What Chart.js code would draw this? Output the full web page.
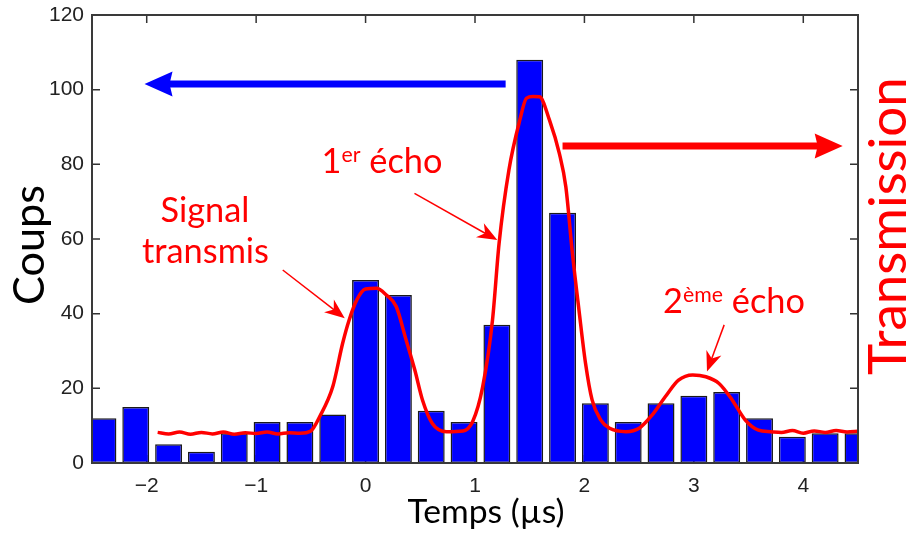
<!DOCTYPE html>
<html>
<head>
<meta charset="utf-8">
<script src="https://cdn.jsdelivr.net/npm/chart.js@4/dist/chart.umd.min.js"></script>
<style>
  html, body { margin: 0; padding: 0; background: #fff; }
  #wrap { width: 909px; height: 538px; position: relative; }
</style>
</head>
<body>
<div id="wrap"><canvas id="chart"></canvas></div>
<script>
// Histogramme (coups) par intervalle de 0.3 µs
const timeBins = [-2.4, -2.1, -1.8, -1.5, -1.2, -0.9, -0.6, -0.3, 0, 0.3, 0.6, 0.9,
                  1.2, 1.5, 1.8, 2.1, 2.4, 2.7, 3.0, 3.3, 3.6, 3.9, 4.2, 4.5];
const counts = [12, 15, 5, 3, 8, 11, 11, 13, 49, 45, 14, 11,
                37, 108, 67, 16, 11, 16, 18, 19, 12, 7, 8, 8];

// Courbe de transmission (en unités de l'axe gauche)
const curveTime = [-1.9, -1.8, -1.7, -1.6, -1.5, -1.4, -1.3, -1.2, -1.1, -1.0, -0.9, -0.8, -0.7, -0.6, -0.5,
                   -0.42, -0.3, -0.21, -0.15, -0.08, 0.0, 0.1, 0.19, 0.28, 0.37, 0.45, 0.52, 0.61, 0.74, 0.89,
                   0.98, 1.07, 1.16, 1.22, 1.31, 1.41, 1.47, 1.53, 1.59, 1.68, 1.77, 1.83, 1.89, 1.95, 2.01,
                   2.07, 2.15, 2.23, 2.38, 2.5, 2.62, 2.74, 2.86, 2.99, 3.11, 3.23, 3.35, 3.47, 3.59, 3.7,
                   3.8, 3.9, 4.0, 4.1, 4.2, 4.3, 4.4, 4.5];
const curveTransmission = [8.2, 7.8, 8.3, 7.7, 8.2, 7.8, 8.3, 7.7, 8.1, 7.9, 8.3, 7.8, 8.1, 8.0, 8.6,
                   12.4, 20.4, 32, 38.3, 43.7, 46.6, 46.8, 45, 41.9, 33, 24.9, 16.9, 10.6, 8.4, 8.6,
                   11.2, 20.4, 38.3, 58.8, 78.5, 91.9, 97.7, 98.2, 98.1, 91.9, 83, 74, 56.2, 41, 26.7,
                   16.9, 11.5, 9.3, 8.4, 9.3, 12.9, 17.8, 22.2, 23.6, 23.1, 21.3, 16.9, 11.5, 8.8, 8.4,
                   8.2, 8.7, 8.0, 8.6, 8.2, 8.7, 8.3, 8.5];

const xTicks = [-2, -1, 0, 1, 2, 3, 4];
const yTicks = [0, 20, 40, 60, 80, 100, 120];

const TEXT_FONT = 'Lato, "Open Sans", sans-serif';
const TICK_FONT = '"Liberation Sans", Arial, sans-serif';

// flèches et textes (en unités des axes)
const bigArrows = [
  { from: [1.28, 101.5], to: [-2.02, 101.5], color: '#0000ff' },
  { from: [1.80, 84.9], to: [4.36, 84.9], color: '#ff0000' }
];
const thinArrows = [
  { from: [-0.757, 51.7], to: [-0.19, 38.8] },
  { from: [0.447, 72.2], to: [1.204, 59.7] },
  { from: [3.277, 37], to: [3.12, 24.5] }
];

function fitFont(ctx, text, width, weight) {
  ctx.font = (weight || '') + ' 100px ' + TEXT_FONT;
  return 100 * width / ctx.measureText(text).width;
}

function drawArrow(ctx, x1, y1, x2, y2, lw, headLen, headHalf, notch, color) {
  const a = Math.atan2(y2 - y1, x2 - x1);
  const c = Math.cos(a), s = Math.sin(a);
  ctx.save();
  ctx.strokeStyle = color;
  ctx.fillStyle = color;
  ctx.lineWidth = lw;
  ctx.lineCap = 'butt';
  ctx.beginPath();
  ctx.moveTo(x1, y1);
  ctx.lineTo(x2 - c * (headLen - notch - 1), y2 - s * (headLen - notch - 1));
  ctx.stroke();
  const bx = x2 - c * headLen, by = y2 - s * headLen;
  ctx.beginPath();
  ctx.moveTo(x2, y2);
  ctx.lineTo(bx - s * headHalf, by + c * headHalf);
  ctx.lineTo(x2 - c * (headLen - notch), y2 - s * (headLen - notch));
  ctx.lineTo(bx + s * headHalf, by - c * headHalf);
  ctx.closePath();
  ctx.fill();
  ctx.restore();
}

function drawRich(ctx, parts, cx, baseline, size, color) {
  const sup = size * 0.62;
  let total = 0;
  parts.forEach(p => {
    ctx.font = (p[1] ? sup : size) + 'px ' + TEXT_FONT;
    total += ctx.measureText(p[0]).width;
  });
  let x = cx - total / 2;
  ctx.save();
  ctx.fillStyle = color;
  ctx.textAlign = 'left';
  ctx.textBaseline = 'alphabetic';
  parts.forEach(p => {
    ctx.font = (p[1] ? sup : size) + 'px ' + TEXT_FONT;
    ctx.fillText(p[0], x, p[1] ? baseline - size * 0.33 : baseline);
    x += ctx.measureText(p[0]).width;
  });
  ctx.restore();
}

function drawRotated(ctx, text, x, y, width, color) {
  const s = fitFont(ctx, text, width);
  ctx.save();
  ctx.font = s + 'px ' + TEXT_FONT;
  ctx.fillStyle = color;
  ctx.textAlign = 'center';
  ctx.textBaseline = 'alphabetic';
  ctx.translate(x, y);
  ctx.rotate(-Math.PI / 2);
  ctx.fillText(text, 0, 0);
  ctx.restore();
}

const decorPlugin = {
  id: 'decor',
  beforeDatasetsDraw(chart) {
    const ctx = chart.ctx;
    const a = chart.chartArea;
    const xs = chart.scales.x, ys = chart.scales.y;
    // ticks intérieurs
    ctx.save();
    ctx.strokeStyle = '#333';
    ctx.lineWidth = 1.5;
    ctx.beginPath();
    xTicks.forEach(v => {
      const px = xs.getPixelForValue(v);
      ctx.moveTo(px, a.top); ctx.lineTo(px, a.top + 8);
      ctx.moveTo(px, a.bottom); ctx.lineTo(px, a.bottom - 8);
    });
    yTicks.forEach(v => {
      const py = ys.getPixelForValue(v);
      ctx.moveTo(a.left, py); ctx.lineTo(a.left + 8, py);
      ctx.moveTo(a.right, py); ctx.lineTo(a.right - 8, py);
    });
    ctx.stroke();
    ctx.restore();
  },
  afterDatasetsDraw(chart) {
    const ctx = chart.ctx;
    const a = chart.chartArea;
    const xs = chart.scales.x, ys = chart.scales.y;
    const P = (pt) => [xs.getPixelForValue(pt[0]), ys.getPixelForValue(pt[1])];

    // cadre
    ctx.save();
    ctx.strokeStyle = '#3a3a3a';
    ctx.lineWidth = 2;
    ctx.strokeRect(a.left, a.top, a.right - a.left, a.bottom - a.top);
    ctx.restore();

    bigArrows.forEach(ar => {
      const f = P(ar.from), t = P(ar.to);
      drawArrow(ctx, f[0], f[1], t[0], t[1], 7, 28, 12.5, 3, ar.color);
    });
    thinArrows.forEach(ar => {
      const f = P(ar.from), t = P(ar.to);
      drawArrow(ctx, f[0], f[1], t[0], t[1], 1.5, 20, 8, 6, '#ff0000');
    });

    // textes rouges
    const s = fitFont(ctx, 'transmis', 127);
    ctx.save();
    ctx.font = s + 'px ' + TEXT_FONT;
    ctx.fillStyle = '#ff0000';
    ctx.textAlign = 'center';
    ctx.textBaseline = 'alphabetic';
    ctx.fillText('Signal', 205, 222);
    ctx.fillText('transmis', 205.5, 263);
    ctx.restore();
    drawRich(ctx, [['1', false], ['er', true], [' écho', false]], 382, 173, s, '#ff0000');
    drawRich(ctx, [['2', false], ['ème', true], [' écho', false]], 734, 313, s, '#ff0000');

    // titres des axes
    const ts = fitFont(ctx, 'Temps (µs)', 157);
    ctx.save();
    ctx.font = ts + 'px ' + TEXT_FONT;
    ctx.fillStyle = '#000';
    ctx.textAlign = 'center';
    ctx.textBaseline = 'alphabetic';
    ctx.fillText('Temps (µs)', 486, 523);
    ctx.restore();

    drawRotated(ctx, 'Coups', 44, 245, 120, '#000');
    drawRotated(ctx, 'Transmission', 906, 226, 298, '#ff0000');
  }
};

const ctx = document.getElementById('chart').getContext('2d');
const chart = new Chart(ctx, {
  type: 'bar',
  data: {
    datasets: [{
      type: 'line',
      label: 'Transmission',
      data: curveTime.map((t, i) => ({ x: t, y: curveTransmission[i] })),
      borderColor: '#ff0000',
      borderWidth: 3.5,
      pointRadius: 0,
      cubicInterpolationMode: 'monotone',
      yAxisID: 'y',
      order: 0
    }, {
      label: 'Coups',
      data: timeBins.map((t, i) => ({ x: t, y: counts[i] })),
      backgroundColor: '#0000ff',
      borderColor: '#1a1a1a',
      borderWidth: 1.5,
      borderSkipped: false,
      barPercentage: 0.82,
      categoryPercentage: 1.0,
      order: 1
    }]
  },
  options: {
    responsive: true,
    maintainAspectRatio: false,
    animation: false,
    layout: { padding: { top: 15, left: 0, right: 0, bottom: 0 } },
    plugins: {
      legend: { display: false },
      tooltip: { enabled: false }
    },
    scales: {
      x: {
        type: 'linear',
        min: -2.5,
        max: 4.5,
        offset: false,
        grid: { display: false, drawTicks: false },
        border: { display: false },
        afterBuildTicks: (s) => { s.ticks = xTicks.map(v => ({ value: v })); },
        afterFit: (s) => { s.height = 75; s.paddingLeft = 0; s.paddingRight = 0; },
        ticks: {
          padding: 11,
          color: '#222',
          font: { family: TICK_FONT, size: 21 },
          maxRotation: 0,
          callback: (v) => String(v).replace('-', '\u2212')
        }
      },
      y: {
        position: 'left',
        min: 0,
        max: 120,
        grid: { display: false, drawTicks: false },
        border: { display: false },
        afterBuildTicks: (s) => { s.ticks = yTicks.map(v => ({ value: v })); },
        afterFit: (s) => { s.width = 92; s.paddingTop = 0; s.paddingBottom = 0; },
        ticks: {
          padding: 8,
          color: '#222',
          font: { family: TICK_FONT, size: 21 }
        }
      },
      y2: {
        position: 'right',
        min: 0,
        max: 120,
        grid: { display: false, drawTicks: false },
        border: { display: false },
        afterFit: (s) => { s.width = 51; s.paddingTop = 0; s.paddingBottom = 0; },
        ticks: { display: false }
      }
    }
  },
  plugins: [decorPlugin]
});
</script>
</body>
</html>
